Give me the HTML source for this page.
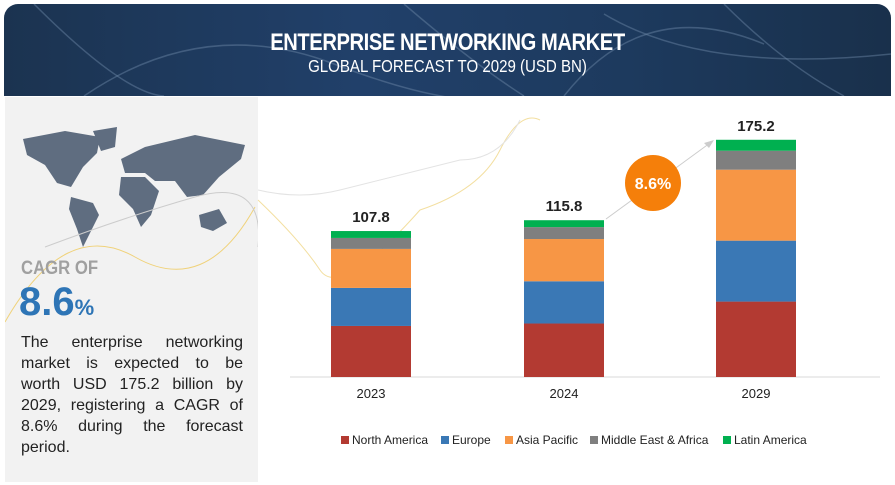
<!DOCTYPE html>
<html><head><meta charset="utf-8"><style>
*{margin:0;padding:0;box-sizing:border-box}
body{width:895px;height:485px;background:#fff;font-family:"Liberation Sans",sans-serif;position:relative;overflow:hidden}
#hdr{position:absolute;left:4px;top:4px;width:887px;height:92px;border-radius:14px 14px 0 0;background:linear-gradient(90deg,#1b3350,#21406a 40%,#1d3a5e 70%,#19304b);overflow:hidden}
#t1{position:absolute;top:25px;width:100%;text-align:center;color:#fff;font-weight:bold;font-size:24px;transform:scaleX(0.84);letter-spacing:-0.5px}
#t2{position:absolute;top:52px;width:100%;text-align:center;color:#fff;font-size:17.5px;transform:scaleX(0.86)}
#left{position:absolute;left:5px;top:97px;width:253px;height:385px;background:#f2f2f2}
#cagr{position:absolute;left:21px;top:258px;font-size:19px;font-weight:bold;color:#a0a0a0;transform:scaleX(0.88);transform-origin:left}
#pct{position:absolute;left:19px;top:280px;font-size:40px;color:#2e75b6;font-weight:bold}
#pct span{font-size:22px}
#desc{position:absolute;left:21px;top:332px;width:222px;font-size:16px;line-height:21px;color:#222}
#desc div{text-align:justify;text-align-last:justify;white-space:normal}
#desc div.last{text-align-last:left}
</style></head><body>
<div id="hdr">
<svg width="887" height="92" style="position:absolute;left:0;top:0">
<g fill="none" stroke="#6f8aa8" stroke-opacity="0.45" stroke-width="1.5">
<path d="M30 0 Q120 90 160 92"/><path d="M80 92 Q200 10 330 60 T520 92"/><path d="M400 0 Q470 60 520 92"/>
<path d="M560 92 Q640 -10 760 40"/><path d="M720 0 Q780 60 840 92"/><path d="M600 10 Q700 70 887 50"/>
</g></svg>
<div id="t1">ENTERPRISE NETWORKING MARKET</div>
<div id="t2">GLOBAL FORECAST TO 2029 (USD BN)</div>
</div>
<div id="left">
<svg width="253" height="385" style="position:absolute;left:0;top:0">
<g fill="#5f6d80">
<path d="M18 42 L60 34 L95 40 L92 56 L78 70 L66 90 L52 86 L40 68 L22 58Z"/>
<path d="M88 34 L112 30 L110 50 L96 54Z"/>
<path d="M66 100 L88 106 L94 118 L84 138 L78 150 L72 132 L64 112Z"/>
<path d="M116 62 L140 50 L190 38 L240 48 L236 62 L214 80 L198 98 L182 100 L170 84 L150 84 L140 76 L120 76Z"/>
<path d="M116 80 L140 80 L154 94 L146 118 L136 130 L128 112 L114 98Z"/>
<path d="M194 118 L214 112 L222 126 L208 134 L196 130Z"/>
</g>
<path d="M0 225 Q60 120 130 160 T250 110" fill="none" stroke="#f0d27a" stroke-width="1"/>
<path d="M40 150 Q120 120 190 100 T253 150" fill="none" stroke="#ccc" stroke-width="1"/>
</svg>
</div>
<div id="cagr">CAGR OF</div>
<div id="pct">8.6<span>%</span></div>
<div id="desc">
<div>The enterprise networking</div>
<div>market is expected to be</div>
<div>worth USD 175.2 billion by</div>
<div>2029, registering a CAGR of</div>
<div>8.6% during the forecast</div>
<div class="last">period.</div>
</div>
<svg id="chart" width="895" height="485" style="position:absolute;left:0;top:0">
<path d="M258 200 Q300 240 320 270 T420 210 Q480 190 500 150 T540 120" fill="none" stroke="#f3dfa0" stroke-width="1"/>
<path d="M258 190 Q300 200 340 190 T460 160 Q500 160 520 120" fill="none" stroke="#e3e3e3" stroke-width="1"/>
<line x1="290" y1="377" x2="880" y2="377" stroke="#d9d9d9" stroke-width="1"/>
<g id="bars"></g>
<line x1="606" y1="219" x2="710" y2="143" stroke="#ccc" stroke-width="1"/>
<path d="M714 140 L704 143 L709 148Z" fill="#ccc"/>
<circle cx="653" cy="183" r="28" fill="#f57f0a"/>
<text x="653" y="189" text-anchor="middle" fill="#fff" font-size="16" font-weight="bold" font-family="Liberation Sans,sans-serif">8.6%</text>
<g id="legend"></g>
</svg>
<script>
const years=["2023","2024","2029"];
const totals=[107.8,115.8,175.2];
const seriesNames=["North America","Europe","Asia Pacific","Middle East & Africa","Latin America"];
const northAmerica=[37.7,39.5,55.7];
const europe=[28.1,31.2,45.0];
const asiaPacific=[28.8,31.2,52.4];
const middleEast=[8.1,8.8,14.0];
const latinAmerica=[5.1,5.1,8.1];
const colors=["#b33a32","#3a78b5","#f79645","#7f7f7f","#00b050"];
const series=[northAmerica,europe,asiaPacific,middleEast,latinAmerica];
const NS="http://www.w3.org/2000/svg";
const base=377,k=1.354;
const y=v=>base-v*k;
const xc=i=>[371,564,756][i];
const bw=80;
const g=document.getElementById('bars');
years.forEach((yr,i)=>{
  let acc=0;
  series.forEach((s,j)=>{
    const r=document.createElementNS(NS,'rect');
    r.setAttribute('x',xc(i)-bw/2);r.setAttribute('width',bw);
    r.setAttribute('y',y(acc+s[i]));r.setAttribute('height',s[i]*k);
    r.setAttribute('fill',colors[j]);
    
    
    g.appendChild(r);acc+=s[i];
  });
  const t=document.createElementNS(NS,'text');
  t.setAttribute('x',xc(i));t.setAttribute('y',y(totals[i])-9);
  t.setAttribute('text-anchor','middle');t.setAttribute('font-size','15');t.setAttribute('font-weight','bold');t.setAttribute('fill','#222');
  t.textContent=totals[i];
  
  
  g.appendChild(t);
  const l=document.createElementNS(NS,'text');
  l.setAttribute('x',xc(i));l.setAttribute('y',398);
  l.setAttribute('text-anchor','middle');l.setAttribute('font-size','13');l.setAttribute('fill','#222');
  l.textContent=yr;
  
  
  g.appendChild(l);
});
const lg=document.getElementById('legend');
const lx=[341,441,505,590,723];
seriesNames.forEach((n,j)=>{
  const r=document.createElementNS(NS,'rect');
  r.setAttribute('x',lx[j]);r.setAttribute('y',436);r.setAttribute('width',8);r.setAttribute('height',8);r.setAttribute('fill',colors[j]);
  
  
  lg.appendChild(r);
  const t=document.createElementNS(NS,'text');
  t.setAttribute('x',lx[j]+11);t.setAttribute('y',444);t.setAttribute('font-size','12');t.setAttribute('fill','#222');
  t.textContent=n;
  
  
  lg.appendChild(t);
});
</script>
</body></html>
